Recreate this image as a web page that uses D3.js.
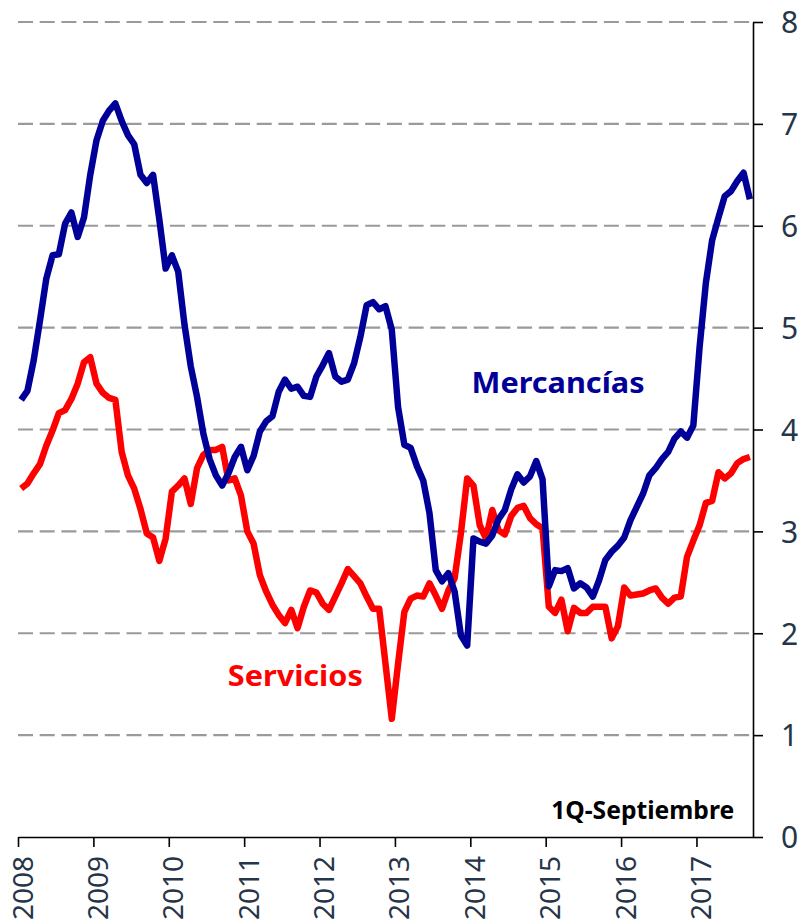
<!DOCTYPE html>
<html>
<head>
<meta charset="utf-8">
<script src="https://cdn.jsdelivr.net/npm/d3@7"></script>
<style>
  body { margin: 0; background: #fff; }
  svg text { font-family: "Noto Sans", "Open Sans", sans-serif; }
</style>
</head>
<body>
<script>
// monthly data, Jan 2008 .. Sep 2017 (annual % change)
var years = [2008, 2009, 2010, 2011, 2012, 2013, 2014, 2015, 2016, 2017]
var yTicks = [0, 1, 2, 3, 4, 5, 6, 7, 8]

var mercancias = [
  4.29, 4.38, 4.68, 5.07, 5.48, 5.71, 5.72, 6.02, 6.13, 5.89, 6.08, 6.50,
  6.84, 7.03, 7.13, 7.20, 7.03, 6.89, 6.80, 6.50, 6.42, 6.50, 6.06, 5.58,
  5.71, 5.55, 5.03, 4.62, 4.32, 3.96, 3.71, 3.55, 3.45, 3.57, 3.73, 3.83,
  3.60, 3.74, 3.98, 4.08, 4.13, 4.37, 4.49, 4.40, 4.42, 4.33, 4.32, 4.52,
  4.63, 4.75, 4.52, 4.47, 4.49, 4.65, 4.91, 5.22, 5.25, 5.18, 5.21, 4.98,
  4.22, 3.85, 3.82, 3.64, 3.50, 3.18, 2.62, 2.51, 2.59, 2.41, 1.98, 1.88,
  2.93, 2.90, 2.88, 2.96, 3.12, 3.21, 3.41, 3.56, 3.48, 3.54, 3.69, 3.51,
  2.46, 2.62, 2.61, 2.64, 2.44, 2.49, 2.45, 2.36, 2.52, 2.72, 2.80, 2.86,
  2.94, 3.11, 3.24, 3.37, 3.55, 3.62, 3.71, 3.78, 3.91, 3.98, 3.92, 4.04,
  4.81, 5.44, 5.86, 6.08, 6.29, 6.34, 6.44, 6.52, 6.26
]

var servicios = [
  3.42, 3.47, 3.57, 3.66, 3.84, 3.99, 4.16, 4.19, 4.30, 4.45, 4.66, 4.71,
  4.45, 4.36, 4.31, 4.29, 3.78, 3.55, 3.42, 3.22, 2.98, 2.94, 2.71, 2.93,
  3.39, 3.45, 3.52, 3.27, 3.62, 3.75, 3.80, 3.80, 3.83, 3.50, 3.52, 3.35,
  3.00, 2.88, 2.57, 2.41, 2.28, 2.18, 2.10, 2.23, 2.05, 2.26, 2.42, 2.40,
  2.29, 2.23, 2.36, 2.49, 2.63, 2.56, 2.49, 2.36, 2.24, 2.24, 1.70, 1.16,
  1.70, 2.21, 2.34, 2.37, 2.36, 2.49, 2.37, 2.24, 2.42, 2.54, 2.98, 3.52,
  3.45, 3.06, 2.93, 3.21, 3.01, 2.97, 3.15, 3.23, 3.25, 3.13, 3.07, 3.03,
  2.26, 2.20, 2.33, 2.02, 2.25, 2.20, 2.20, 2.26, 2.26, 2.26, 1.95, 2.07,
  2.45, 2.37, 2.38, 2.39, 2.42, 2.44, 2.35, 2.29, 2.35, 2.36, 2.75, 2.91,
  3.06, 3.28, 3.30, 3.58, 3.52, 3.57, 3.67, 3.71, 3.73
]

var W = 807, H = 922
var margin = {top: 22, right: 54, bottom: 85, left: 18}
var width = W - margin.left - margin.right,
    height = H - margin.top - margin.bottom

var svg = d3.select("body").append("svg")
  .attr("width", W).attr("height", H)
var g = svg.append("g")
  .attr("transform", "translate(" + margin.left + "," + margin.top + ")")

// category axis: one slot per month, points sit mid-slot
var x = d3.scaleLinear().domain([0, mercancias.length]).range([0, width])
var y = d3.scaleLinear().domain([0, 8]).range([height, 0])

// dashed grid
g.append("g").selectAll("line")
  .data(yTicks.filter(function(d) { return d > 0 }))
  .join("line")
  .attr("x1", 0).attr("x2", width)
  .attr("y1", function(d) { return y(d) }).attr("y2", function(d) { return y(d) })
  .attr("stroke", "#9a9a9a").attr("stroke-width", 2.2)
  .attr("stroke-dasharray", "15,6.7")

var labelColor = "#263548"

// bottom axis (years)
var xAxis = d3.axisBottom(x)
  .tickValues(years.map(function(d, i) { return i * 12 }))
  .tickFormat(function(d, i) { return years[i] })
  .tickSize(10).tickSizeOuter(0)
var gx = g.append("g").attr("transform", "translate(0," + height + ")").call(xAxis)
gx.select(".domain").attr("stroke", "#000").attr("stroke-width", 1.6)
gx.selectAll(".tick line").attr("stroke", "#000").attr("stroke-width", 1.6)
gx.selectAll(".tick text")
  .attr("transform", "rotate(-90)")
  .attr("x", -19).attr("y", 0).attr("dy", "0.5em")
  .style("text-anchor", "end")
  .attr("font-size", 28).attr("fill", labelColor)

// right axis
var yAxis = d3.axisRight(y).tickValues(yTicks).tickFormat(d3.format("d"))
  .tickSize(10).tickSizeOuter(0).tickPadding(18)
var gy = g.append("g").attr("transform", "translate(" + width + ",0)").call(yAxis)
gy.select(".domain").attr("stroke", "#000").attr("stroke-width", 1.6)
gy.selectAll(".tick line").attr("stroke", "#000").attr("stroke-width", 1.6)
gy.selectAll(".tick text").attr("font-size", 30).attr("fill", labelColor).attr("dy", "0.36em")

// lines
var line = d3.line()
  .x(function(d, i) { return x(i + 0.5) })
  .y(function(d) { return y(d) })

g.append("path").datum(servicios)
  .attr("fill", "none").attr("stroke", "#ff0000").attr("stroke-width", 6.5)
  .attr("stroke-linejoin", "round")
  .attr("d", line)

g.append("path").datum(mercancias)
  .attr("fill", "none").attr("stroke", "#000099").attr("stroke-width", 6.5)
  .attr("stroke-linejoin", "round")
  .attr("d", line)

// series labels
g.append("text")
  .attr("x", x(72.2)).attr("y", y(4.36))
  .attr("font-size", 29).attr("font-weight", "bold").attr("fill", "#000099")
  .attr("textLength", 173).attr("lengthAdjust", "spacingAndGlyphs")
  .text("Mercancías")

g.append("text")
  .attr("x", x(33.4)).attr("y", y(1.48))
  .attr("font-size", 29).attr("font-weight", "bold").attr("fill", "#ff0000")
  .attr("textLength", 135).attr("lengthAdjust", "spacingAndGlyphs")
  .text("Servicios")

g.append("text")
  .attr("x", x(114)).attr("y", y(0.18))
  .attr("font-size", 25).attr("font-weight", "bold").attr("fill", "#000")
  .attr("text-anchor", "end")
  .attr("textLength", 183).attr("lengthAdjust", "spacingAndGlyphs")
  .text("1Q-Septiembre")
</script>
</body>
</html>
